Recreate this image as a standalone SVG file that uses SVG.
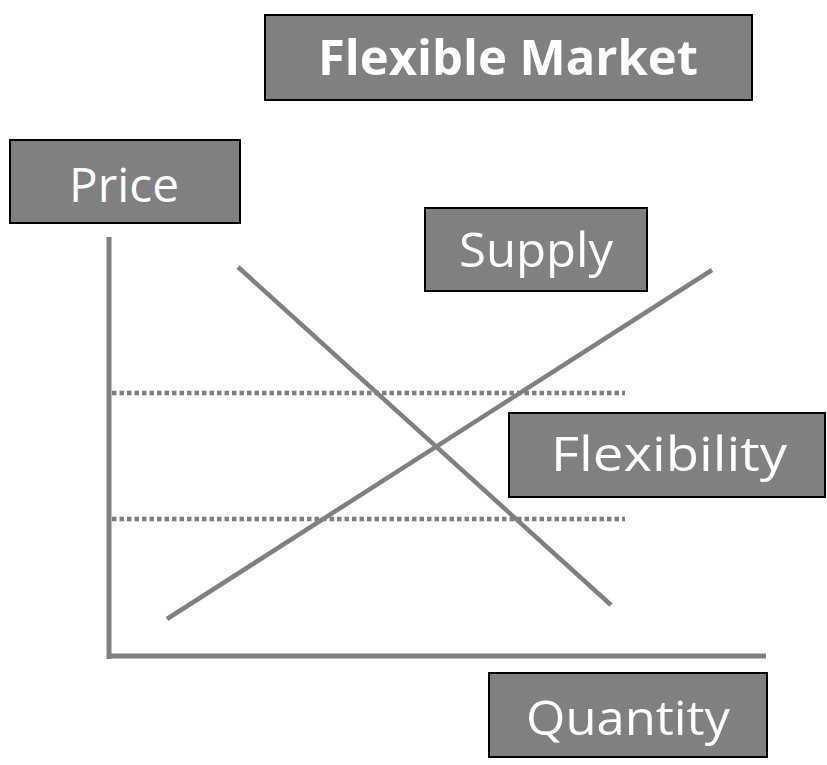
<svg xmlns="http://www.w3.org/2000/svg" width="827" height="765" viewBox="0 0 827 765">
<style>
.box{fill:#808080;stroke:#000;stroke-width:2}
.lbl{fill:#fff;font-family:"Open Sans","Noto Sans","DejaVu Sans",sans-serif;font-size:48px}
.axis{stroke:#808080;stroke-width:5;fill:none}
.curve{stroke:#808080;stroke-width:4.5;fill:none}
.dot{stroke:#808080;stroke-width:4.5;stroke-dasharray:4.5 3;fill:none}
</style>
<rect width="827" height="765" fill="#fff"/>
<g id="connectors">
<line class="axis" x1="109" y1="237" x2="109" y2="659"/>
<line class="axis" x1="107" y1="656" x2="766" y2="656"/>
<line class="dot" x1="112" y1="393" x2="625" y2="393"/>
<line class="dot" x1="112" y1="519" x2="625" y2="519"/>
<line id="demand" class="curve" x1="238" y1="267" x2="611" y2="605"/>
<line id="supply-line" class="curve" x1="167" y1="619" x2="712" y2="270"/>
</g>
<g id="title"><rect class="box" x="265" y="15" width="487" height="85"/><text class="lbl" x="508" y="75" text-anchor="middle" font-weight="bold" font-size="48" textLength="380" lengthAdjust="spacingAndGlyphs">Flexible Market</text></g>
<g id="price"><rect class="box" x="10" y="140" width="230" height="83"/><text class="lbl" x="124" y="202" text-anchor="middle" font-size="52" textLength="110" lengthAdjust="spacingAndGlyphs">Price</text></g>
<g id="supply"><rect class="box" x="425" y="208" width="222" height="83"/><text class="lbl" x="536" y="267" text-anchor="middle" font-size="49" textLength="154" lengthAdjust="spacingAndGlyphs">Supply</text></g>
<g id="flexibility"><rect class="box" x="509" y="413" width="316" height="84"/><text class="lbl" x="669" y="471" text-anchor="middle" font-size="48" textLength="236" lengthAdjust="spacingAndGlyphs">Flexibility</text></g>
<g id="quantity"><rect class="box" x="489" y="673" width="278" height="84"/><text class="lbl" x="628" y="735" text-anchor="middle" font-size="52" textLength="204" lengthAdjust="spacingAndGlyphs">Quantity</text></g>
</svg>
